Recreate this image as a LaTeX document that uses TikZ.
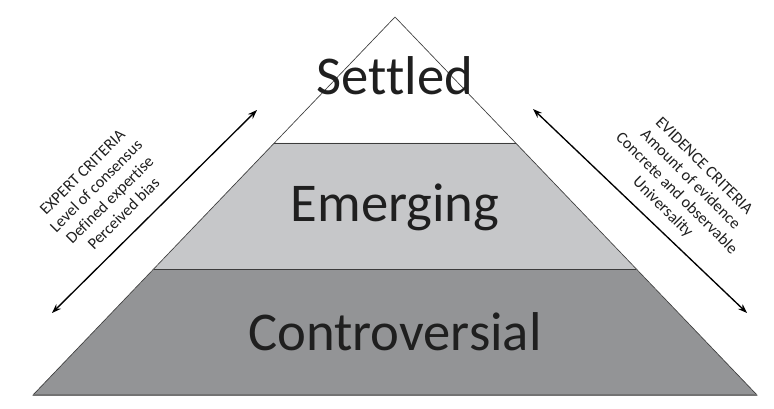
\documentclass[tikz,border=0pt]{standalone}
\usepackage{fontspec}
\setmainfont{Carlito}[Ligatures=NoCommon]
\usetikzlibrary{arrows.meta}
\definecolor{lightband}{RGB}{198,199,201}
\definecolor{darkband}{RGB}{147,148,150}
\definecolor{edgegray}{RGB}{60,60,60}
\tikzset{
  level/.style = {anchor=base, text=black!88, font=\fontsize{41}{49}\selectfont},
  criteria/.style = {align=center, text=black!88, font=\fontsize{12.2}{14.6}\selectfont},
  scalearrow/.style = {{Stealth[length=7pt,width=5pt]}-{Stealth[length=7pt,width=5pt]}, line width=1pt}
}
\begin{document}
\begin{tikzpicture}[x=0.75pt, y=-0.75pt]
  \useasboundingbox (0,0) rectangle (774,409);
  % bands
  \fill[darkband] (154,269) -- (636,269) -- (757,395) -- (33,395) -- cycle;
  \fill[lightband] (274,143) -- (516,143) -- (636,269) -- (154,269) -- cycle;
  \draw[edgegray, line width=0.5pt] (395,17) -- (33,395) -- (757,395) -- cycle;
  \draw[edgegray, line width=0.5pt] (274,143) -- (516,143);
  \draw[edgegray, line width=0.5pt] (154,269) -- (636,269);
  \draw[black!55, line width=1pt] (33,395) -- (757,395);
  % labels
  \node[level] (settled) at (395,95) {Settled};
  \node[level] (emerging) at (395,222) {Emerging};
  \node[level] (controversial) at (395,350) {Controversial};
  % side scales
  \coordinate (expertlow) at (52,313);
  \coordinate (experthigh) at (257,110);
  \coordinate (evidencehigh) at (533,109);
  \coordinate (evidencelow) at (747,313);
  \draw[scalearrow] (expertlow) -- (experthigh);
  \draw[scalearrow] (evidencehigh) -- (evidencelow);
  \node[criteria, rotate=45] (expert) at (103,193)
    {EXPERT CRITERIA\\Level of consensus\\Defined expertise\\Perceived bias};
  \node[criteria, rotate=-45] (evidence) at (683,187)
    {EVIDENCE CRITERIA\\Amount of evidence\\Concrete and observable\\Universality};
\end{tikzpicture}
\end{document}
